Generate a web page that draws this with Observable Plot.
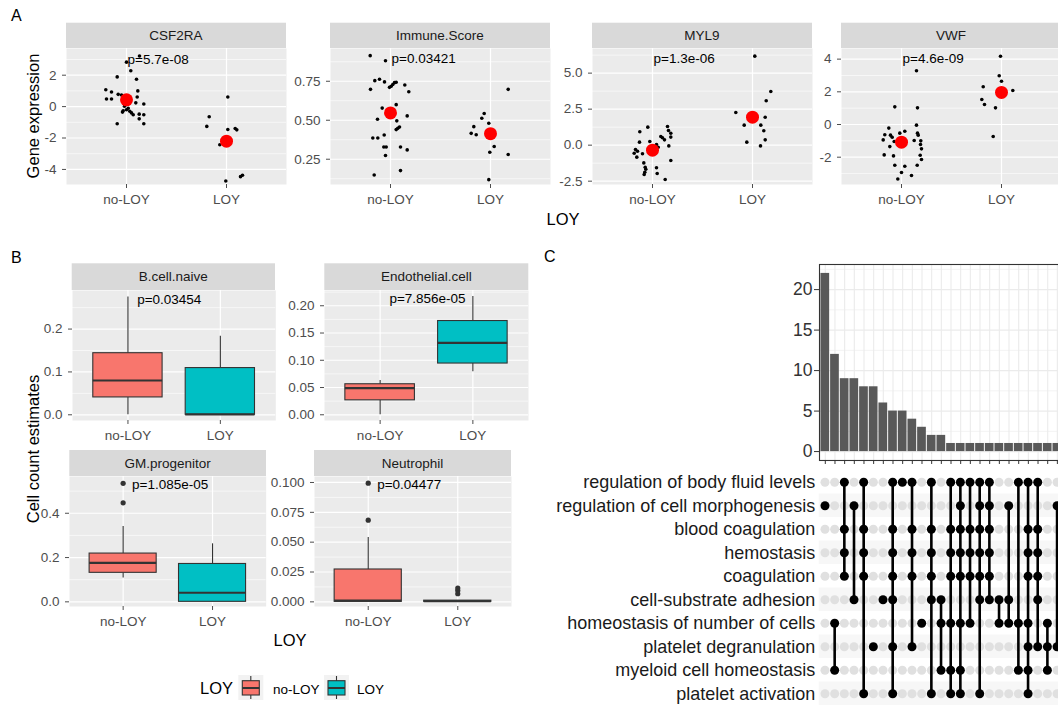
<!DOCTYPE html>
<html><head><meta charset="utf-8">
<script src="https://cdn.jsdelivr.net/npm/d3@7"></script>
<script src="https://cdn.jsdelivr.net/npm/@observablehq/plot@0.6"></script>
<style>
body{margin:0;background:#fff;}
#fig{position:relative;width:1058px;height:706px;overflow:hidden;background:#fff;font-family:'Liberation Sans',Arial,sans-serif;}
</style></head>
<body><div id="fig"></div>
<script>
// ---------------- DATA ----------------
const groups = ["no-LOY", "LOY"];
const groupColors = ["#F8766D", "#00BFC4"];

// Panel A: gene expression (value, horizontal jitter offset in category units)
const geneNames = ["CSF2RA", "Immune.Score", "MYL9", "VWF"];
const geneP = ["p=5.7e-08", "p=0.03421", "p=1.3e-06", "p=4.6e-09"];

const csf2raNoLoy = [3.22, 2.83, 2.28, 1.89, 1.74, 1.07, 0.93, 1.0, 0.78, 0.74, 0.48, 0.48, 0.61, 0.17, 0.24, -0.26, -0.2, -0.3, -0.52, -0.35, -0.1, -0.48, -0.52, -0.78, -1.09, -1.09, 0.02, -0.4];
const csf2raNoLoyJit = [0.13, 0.0, 0.043, -0.093, 0.1, -0.207, -0.15, 0.113, -0.083, -0.05, -0.2, -0.15, 0.107, 0.173, 0.093, -0.033, 0.0, 0.033, 0.067, -0.04, 0.017, 0.127, 0.173, 0.127, -0.093, 0.173, -0.02, 0.05];
const csf2raLoy = [0.61, -0.65, -1.26, -1.46, -1.39, -1.48, -2.43, -2.2, -4.74, -4.46, -4.37];
const csf2raLoyJit = [0.013, -0.173, -0.197, 0.013, 0.087, 0.103, -0.067, 0.0, -0.007, 0.14, 0.16];

const immuneNoLoy = [0.914, 0.881, 0.754, 0.763, 0.746, 0.698, 0.718, 0.729, 0.741, 0.744, 0.711, 0.726, 0.683, 0.600, 0.578, 0.528, 0.506, 0.496, 0.448, 0.457, 0.440, 0.405, 0.386, 0.386, 0.328, 0.328, 0.328, 0.310, 0.274, 0.149, 0.177, 0.55];
const immuneNoLoyJit = [-0.203, -0.05, -0.157, -0.11, -0.06, -0.2, 0.007, 0.023, 0.04, 0.057, -0.01, 0.143, 0.183, 0.057, -0.083, 0.167, -0.13, 0.063, 0.073, 0.09, 0.057, -0.063, -0.177, -0.127, -0.067, -0.043, 0.1, 0.167, -0.05, -0.163, 0.1, 0.0];
const immuneLoy = [0.543, 0.513, 0.481, 0.459, 0.416, 0.407, 0.698, 0.332, 0.295, 0.28, 0.119];
const immuneLoyJit = [-0.063, -0.087, -0.017, -0.167, -0.193, -0.143, 0.177, 0.037, -0.007, 0.177, -0.017];

const myl9NoLoy = [0.93, 1.25, 0.21, 0.25, -0.30, -0.42, -0.56, -0.83, -0.60, -1.23, -1.53, -1.67, -1.88, -2.04, 0.05, -0.14, 0.60, 0.51, 0.37, 1.30, 1.02, 0.83, 0.56, -0.05, -1.06, -1.57, -1.97, -2.38];
const myl9NoLoyJit = [-0.127, -0.047, -0.13, -0.027, -0.17, -0.15, -0.183, -0.157, -0.1, -0.087, -0.073, -0.067, -0.077, -0.083, 0.04, 0.057, 0.083, 0.1, 0.12, 0.15, 0.16, 0.183, 0.183, 0.163, 0.183, 0.04, 0.047, 0.127];
const myl9Loy = [6.18, 3.73, 3.08, 2.27, 1.94, 1.39, 1.39, 1.0, 0.37, 0.21, -0.05];
const myl9LoyJit = [0.023, 0.183, 0.137, -0.167, 0.127, -0.083, 0.083, 0.113, 0.127, -0.057, 0.08];

const vwfNoLoy = [3.29, 1.08, 1.02, -0.04, -0.22, -0.41, -0.53, -0.53, -0.65, -0.63, -0.65, -0.78, -0.94, -0.98, -1.0, -1.04, -1.22, -1.35, -1.49, -1.86, -1.92, -1.88, -2.14, -2.49, -2.55, -2.49, -2.94, -3.12, -3.33];
const vwfNoLoyJit = [0.15, -0.067, 0.16, 0.15, -0.127, 0.033, -0.017, 0.16, 0.167, -0.167, -0.11, -0.093, -0.183, 0.127, 0.193, -0.073, 0.19, -0.117, 0.2, -0.173, -0.08, 0.187, 0.2, -0.067, 0.033, 0.157, 0.0, 0.1, -0.037];
const vwfLoy = [4.18, 2.98, 2.65, 2.31, 2.08, 1.53, 1.22, 1.02, -0.73];
const vwfLoyJit = [-0.01, -0.023, 0.0, -0.183, 0.113, -0.197, -0.17, -0.06, -0.083];

const geneMeanNoLoy = [0.43, 0.547, -0.35, -1.08];
const geneMeanLoy = [-2.2, 0.414, 1.94, 1.96];

const csf2raTickLabels = ["-4", "-2", "0", "2"];
const immuneTickLabels = ["0.25", "0.50", "0.75"];
const myl9TickLabels = ["-2.5", "0.0", "2.5", "5.0"];
const vwfTickLabels = ["-2", "0", "2", "4"];

// Panel B: boxplot stats [lower whisker, Q1, median, Q3, upper whisker]
const cellNames = ["B.cell.naive", "Endothelial.cell", "GM.progenitor", "Neutrophil"];
const cellP = ["p=0.03454", "p=7.856e-05", "p=1.085e-05", "p=0.04477"];
const bcellNoLoyBox = [0, 0.0405, 0.080, 0.1437, 0.275];
const bcellLoyBox = [0, 0, 0.001, 0.109, 0.183];
const endoNoLoyBox = [0, 0.0265, 0.049, 0.056, 0.063];
const endoLoyBox = [0.079, 0.094, 0.132, 0.172, 0.217];
const gmNoLoyBox = [0.108, 0.131, 0.176, 0.218, 0.34];
const gmLoyBox = [0, 0, 0.041, 0.171, 0.262];
const neutNoLoyBox = [0, 0, 0.001, 0.0271, 0.054];
const neutLoyBox = [0, 0, 0.0005, 0.001, 0.001];
const bcellNoLoyOut = [], bcellLoyOut = [];
const endoNoLoyOut = [], endoLoyOut = [];
const gmNoLoyOut = [0.447, 0.535], gmLoyOut = [];
const neutNoLoyOut = [0.0684, 0.0994], neutLoyOut = [0.0068, 0.0095, 0.0115];

const bcellTickLabels = ["0.0", "0.1", "0.2"];
const endoTickLabels = ["0.00", "0.05", "0.10", "0.15", "0.20"];
const gmTickLabels = ["0.0", "0.2", "0.4"];
const neutTickLabels = ["0.000", "0.025", "0.050", "0.075", "0.100"];

// Panel C: upset plot
const upsetSets = ["regulation of body fluid levels", "regulation of cell morphogenesis", "blood coagulation", "hemostasis", "coagulation", "cell-substrate adhesion", "homeostasis of number of cells", "platelet degranulation", "myeloid cell homeostasis", "platelet activation"];
const upsetCounts = [22, 12, 9, 9, 8, 8, 6, 5, 5, 4, 3, 2, 2, 1, 1, 1, 1, 1, 1, 1, 1, 1, 1, 1, 1];
const upsetCombos = [
  [2], [7, 9], [1, 3, 4, 5], [2, 6], [1, 3, 4, 5, 10], [8], [6], [1, 3, 4, 5, 6, 8, 10], [1], [1, 3, 4, 5, 8],
  [7], [1, 3, 4, 5, 6, 10], [6, 7, 9], [1, 3, 4, 5, 7, 9, 10], [1, 2, 3, 4, 5, 7, 9, 10], [1, 3, 4, 5, 7],
  [1, 2, 3, 4, 5, 6, 10], [1, 2, 3, 4, 5, 6], [6, 7], [2, 6, 7], [1, 7, 9], [1, 3, 4, 5, 7, 8, 9, 10],
  [1, 3, 4, 5, 6, 8], [7, 8, 9], [2, 8]
];
const upsetTickLabels = ["0", "5", "10", "15", "20"];

// ---------------- LAYOUT ----------------
const FONT = "'Liberation Sans', Arial, sans-serif";
const fig = document.getElementById("fig");
function place(el, left, top) {
  el.style.position = "absolute"; el.style.left = left + "px"; el.style.top = top + "px";
  el.style.maxWidth = "none";
  fig.appendChild(el);
}
function minorOf(ticks, domain) {
  const step = ticks[1] - ticks[0], lo = Math.min(...domain), hi = Math.max(...domain), out = [];
  for (let i = -1; i < ticks.length; i++) { const m = ticks[0] + (i + 0.5) * step; if (m >= lo && m <= hi) out.push(m); }
  return out;
}
const baseStyle = {background: "none", fontFamily: FONT, overflow: "visible"};
const ML = 52;

// Panel A
const aCfg = [
  {noLoy: csf2raNoLoy, noJit: csf2raNoLoyJit, loy: csf2raLoy, loyJit: csf2raLoyJit, ticks: csf2raTickLabels, domain: [-4.96, 3.7], labelY: 3.0, left: 66},
  {noLoy: immuneNoLoy, noJit: immuneNoLoyJit, loy: immuneLoy, loyJit: immuneLoyJit, ticks: immuneTickLabels, domain: [0.088, 0.96], labelY: 0.893, left: 330},
  {noLoy: myl9NoLoy, noJit: myl9NoLoyJit, loy: myl9Loy, loyJit: myl9LoyJit, ticks: myl9TickLabels, domain: [-2.73, 6.71], labelY: 6.0, left: 592},
  {noLoy: vwfNoLoy, noJit: vwfNoLoyJit, loy: vwfLoy, loyJit: vwfLoyJit, ticks: vwfTickLabels, domain: [-3.67, 4.65], labelY: 4.02, left: 841}
];
const aTop = 48, aW = 220, aH = 136, aStripTop = 22.7;

aCfg.forEach((c, k) => {
  const ticks = c.ticks.map(Number);
  const lab = new Map(ticks.map((t, i) => [t, c.ticks[i]]));
  const pts = [
    ...c.noLoy.map((v, i) => ({x: 1 + c.noJit[i], y: v})),
    ...c.loy.map((v, i) => ({x: 2 + c.loyJit[i], y: v}))
  ];
  const means = [{x: 1, y: geneMeanNoLoy[k]}, {x: 2, y: geneMeanLoy[k]}];
  const p = Plot.plot({
    width: ML + aW, height: aH + 26, marginLeft: ML, marginRight: 0, marginTop: 0, marginBottom: 26,
    style: baseStyle,
    x: {domain: [0.4, 2.6], axis: null},
    y: {domain: c.domain, axis: null},
    marks: [
      Plot.frame({fill: "#EBEBEB", stroke: "none"}),
      Plot.ruleY(minorOf(ticks, c.domain), {stroke: "#fff", strokeWidth: 0.6}),
      Plot.ruleY(ticks, {stroke: "#fff", strokeWidth: 1.2}),
      Plot.ruleX([1, 2], {stroke: "#fff", strokeWidth: 1.2}),
      Plot.axisY(ticks, {tickFormat: d => lab.get(d), tickSize: 4, tickPadding: 6, fontSize: 13.5, color: "#4D4D4D", label: null}),
      Plot.axisX([1, 2], {tickFormat: d => groups[d - 1], tickSize: 4, tickPadding: 6, fontSize: 13.5, color: "#4D4D4D", label: null}),
      Plot.dot(pts, {x: "x", y: "y", r: 1.8, fill: "#000"}),
      Plot.dot(means, {x: "x", y: "y", r: 6.5, fill: "#FF0000"}),
      Plot.text([geneP[k]], {x: 1.01, y: c.labelY, text: d => d, textAnchor: "start", fontSize: 13.5, fill: "#000"})
    ]
  });
  place(p, c.left - ML, aTop);
});

// Panel B
const bCfg = [
  {boxes: [bcellNoLoyBox, bcellLoyBox], outs: [bcellNoLoyOut, bcellLoyOut], ticks: bcellTickLabels, domain: [-0.0133, 0.290], labelY: 0.269, left: 71.7, w: 203.3, top: 290, stripTop: 263.3},
  {boxes: [endoNoLoyBox, endoLoyBox], outs: [endoNoLoyOut, endoLoyOut], ticks: endoTickLabels, domain: [-0.0105, 0.228], labelY: 0.213, left: 324.3, w: 204, top: 290, stripTop: 263.3},
  {boxes: [gmNoLoyBox, gmLoyBox], outs: [gmNoLoyOut, gmLoyOut], ticks: gmTickLabels, domain: [-0.021, 0.566], labelY: 0.529, left: 69.3, w: 196.7, top: 476, stripTop: 450},
  {boxes: [neutNoLoyBox, neutLoyBox], outs: [neutNoLoyOut, neutLoyOut], ticks: neutTickLabels, domain: [-0.0039, 0.105], labelY: 0.0983, left: 314, w: 197, top: 476, stripTop: 450}
];
const bH = 130;
bCfg.forEach((c, k) => {
  const ticks = c.ticks.map(Number);
  const lab = new Map(ticks.map((t, i) => [t, c.ticks[i]]));
  const boxes = c.boxes.map((b, g) => ({pos: g + 1, lo: b[0], q1: b[1], med: b[2], q3: b[3], hi: b[4], fill: groupColors[g]}));
  const outs = c.outs.flatMap((arr, g) => arr.map(v => ({pos: g + 1, v})));
  const p = Plot.plot({
    width: ML + c.w, height: bH + 26, marginLeft: ML, marginRight: 0, marginTop: 0, marginBottom: 26,
    style: baseStyle,
    x: {domain: [0.4, 2.6], axis: null},
    y: {domain: c.domain, axis: null},
    color: {type: "identity"},
    marks: [
      Plot.frame({fill: "#EBEBEB", stroke: "none"}),
      Plot.ruleY(minorOf(ticks, c.domain), {stroke: "#fff", strokeWidth: 0.6}),
      Plot.ruleY(ticks, {stroke: "#fff", strokeWidth: 1.2}),
      Plot.ruleX([1, 2], {stroke: "#fff", strokeWidth: 1.2}),
      Plot.axisY(ticks, {tickFormat: d => lab.get(d), tickSize: 4, tickPadding: 6, fontSize: 13.5, color: "#4D4D4D", label: null}),
      Plot.axisX([1, 2], {tickFormat: d => groups[d - 1], tickSize: 4, tickPadding: 6, fontSize: 13.5, color: "#4D4D4D", label: null}),
      Plot.ruleX(boxes, {x: "pos", y1: "lo", y2: "q1", stroke: "#333", strokeWidth: 1.1}),
      Plot.ruleX(boxes, {x: "pos", y1: "q3", y2: "hi", stroke: "#333", strokeWidth: 1.1}),
      Plot.rect(boxes, {x1: d => d.pos - 0.375, x2: d => d.pos + 0.375, y1: "q1", y2: "q3", fill: "fill", stroke: "#333", strokeWidth: 1.1}),
      Plot.ruleY(boxes, {y: "med", x1: d => d.pos - 0.375, x2: d => d.pos + 0.375, stroke: "#333", strokeWidth: 2.2}),
      Plot.dot(outs, {x: "pos", y: "v", r: 2.6, fill: "#333"}),
      Plot.text([cellP[k]], {x: 1.1, y: c.labelY, text: d => d, textAnchor: "start", fontSize: 13.5, fill: "#000"})
    ]
  });
  place(p, c.left - ML, c.top);
});

// Panel C: upset bars
const cLeft = 818.7, colStep = 9.67, nCols = upsetCounts.length;
const cW = (nCols - 1 + 1.2) * colStep;
const cols = d3.range(1, nCols + 1);
const bars = upsetCounts.map((v, i) => ({c: i + 1, v}));
const uTicks = upsetTickLabels.map(Number);
const uDomain = [-1.1, 23.1];
const barML = 34;
const barPlot = Plot.plot({
  width: barML + cW, height: 2 + 196 + 8, marginLeft: barML, marginRight: 0, marginTop: 2, marginBottom: 8,
  style: baseStyle,
  x: {domain: [0.4, nCols + 0.6], axis: null},
  y: {domain: uDomain, axis: null},
  marks: [
    Plot.frame({fill: "#fff", stroke: "none"}),
    Plot.ruleY(minorOf(uTicks, uDomain), {stroke: "#EBEBEB", strokeWidth: 0.6}),
    Plot.ruleY(uTicks, {stroke: "#EBEBEB", strokeWidth: 1.1}),
    Plot.ruleX(cols, {stroke: "#EBEBEB", strokeWidth: 1.1}),
    Plot.rect(bars, {x1: d => d.c - 0.45, x2: d => d.c + 0.45, y1: 0, y2: "v", fill: "#595959"}),
    Plot.frame({stroke: "#333", strokeWidth: 1.1}),
    Plot.axisY(uTicks, {tickFormat: d => String(d), tickSize: 5, tickPadding: 2, fontSize: 17.5, color: "#333", label: null}),
    Plot.axisX(cols, {tickFormat: () => "", tickSize: 4, color: "#333", label: null})
  ]
});
place(barPlot, cLeft - barML, 262);

// Panel C: upset matrix
const matML = cLeft - 552;
const rows = d3.range(1, upsetSets.length + 1);
const cells = upsetCombos.flatMap((combo, ci) => rows.map(r => ({c: ci + 1, r, on: combo.includes(r)})));
const links = upsetCombos.map((combo, ci) => ({c: ci + 1, y1: d3.min(combo), y2: d3.max(combo)}));
const matPlot = Plot.plot({
  width: matML + cW, height: 235, marginLeft: matML, marginRight: 0, marginTop: 0, marginBottom: 0,
  style: baseStyle,
  x: {domain: [0.4, nCols + 0.6], axis: null},
  y: {domain: [upsetSets.length + 0.5, 0.5], axis: null},
  marks: [
    Plot.rect(rows.filter(r => r % 2 === 0), {x1: 0.4, x2: nCols + 0.6, y1: r => r - 0.5, y2: r => r + 0.5, fill: "#F7F7F7"}),
    Plot.dot(cells.filter(d => !d.on), {x: "c", y: "r", r: 4.5, fill: "#E0E0E0"}),
    Plot.ruleX(links, {x: "c", y1: "y1", y2: "y2", stroke: "#000", strokeWidth: 2.6}),
    Plot.dot(cells.filter(d => d.on), {x: "c", y: "r", r: 4.5, fill: "#000"}),
    Plot.axisY(rows, {tickFormat: d => upsetSets[d - 1], tickSize: 0, tickPadding: 4, fontSize: 18, color: "#1A1A1A", label: null})
  ]
});
place(matPlot, 552, 470);

// ---------------- OVERLAY TEXT: strips, titles, legend ----------------
const ov = d3.select(fig).append("svg").attr("width", 1058).attr("height", 706)
  .style("position", "absolute").style("left", "0px").style("top", "0px")
  .style("font-family", FONT).style("pointer-events", "none");

function strip(x, y, w, h, label) {
  ov.append("rect").attr("x", x).attr("y", y).attr("width", w).attr("height", h).attr("fill", "#D9D9D9");
  ov.append("text").attr("x", x + w / 2).attr("y", y + h / 2 + 4.8).attr("text-anchor", "middle")
    .attr("font-size", 13.5).attr("fill", "#1A1A1A").text(label);
}
aCfg.forEach((c, k) => strip(c.left, aStripTop, aW, aTop - aStripTop, geneNames[k]));
bCfg.forEach((c, k) => strip(c.left, c.stripTop, c.w, c.top - c.stripTop, cellNames[k]));

function txt(x, y, s, size, anchor = "start", rot = 0) {
  const t = ov.append("text").attr("font-size", size).attr("fill", "#000").attr("text-anchor", anchor).text(s);
  if (rot) t.attr("transform", `translate(${x},${y}) rotate(${rot})`); else t.attr("x", x).attr("y", y);
}
txt(11, 21, "A", 16);
txt(11, 263, "B", 16);
txt(544, 262, "C", 16);
txt(39, 116, "Gene expression", 16.5, "middle", -90);
txt(38.5, 449, "Cell count estimates", 16.5, "middle", -90);
txt(563, 225, "LOY", 16.5, "middle");
txt(290, 646, "LOY", 16.5, "middle");

// legend
txt(200, 694, "LOY", 16.5);
const legendLabels = groups;
[238.3, 324].forEach((kx, g) => {
  ov.append("rect").attr("x", kx).attr("y", 675).attr("width", 25).attr("height", 25).attr("fill", "#F2F2F2");
  ov.append("line").attr("x1", kx + 12.5).attr("x2", kx + 12.5).attr("y1", 676).attr("y2", 699).attr("stroke", "#333").attr("stroke-width", 1.1);
  ov.append("rect").attr("x", kx + 4).attr("y", 680.7).attr("width", 17).attr("height", 14.3)
    .attr("fill", groupColors[g]).attr("stroke", "#333").attr("stroke-width", 1.1);
  ov.append("line").attr("x1", kx + 4).attr("x2", kx + 21).attr("y1", 688).attr("y2", 688).attr("stroke", "#333").attr("stroke-width", 2);
});
txt(273, 694, legendLabels[0], 13.5);
txt(357, 694, legendLabels[1], 13.5);
</script></body></html>
